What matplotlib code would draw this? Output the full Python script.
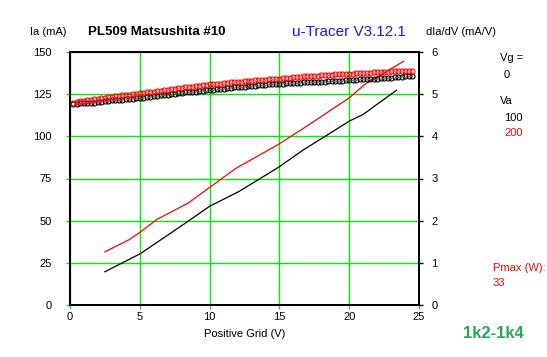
import numpy as np
import matplotlib.pyplot as plt

plt.rcParams['font.family'] = ['Liberation Sans', 'DejaVu Sans']

# anode current vs positive grid voltage (left axis, mA)
ia_100_x = [2.5, 5.05, 8.1, 10.0, 12.1, 14.95, 16.7, 18.24, 20.0, 21.0, 23.4]
ia_100 = [19.7, 30.5, 47.6, 58.5, 67.3, 81.7, 91.9, 99.8, 109.0, 113.0, 127.4]
ia_200_x = [2.5, 4.25, 5.05, 6.2, 8.46, 10.0, 11.9, 14.95, 16.9, 20.0, 21.2, 23.9]
ia_200 = [31.5, 38.8, 43.3, 50.6, 60.4, 69.7, 81.1, 95.3, 105.7, 122.8, 131.3, 144.5]

# dIa/dV (right axis, mA/V), sampled every 0.25 V
vg_s = np.arange(1, 99) * 0.25
gm_200 = [4.80, 4.81, 4.83, 4.84, 4.85, 4.87, 4.88, 4.89, 4.91, 4.92,
          4.93, 4.94, 4.95, 4.96, 4.97, 4.98, 4.99, 5.00, 5.01, 5.02,
          5.03, 5.04, 5.05, 5.06, 5.07, 5.08, 5.09, 5.10, 5.12, 5.13,
          5.14, 5.15, 5.16, 5.17, 5.18, 5.19, 5.20, 5.21, 5.22, 5.23,
          5.24, 5.25, 5.25, 5.26, 5.27, 5.28, 5.28, 5.29, 5.30, 5.31,
          5.31, 5.32, 5.33, 5.33, 5.34, 5.34, 5.35, 5.36, 5.36, 5.37,
          5.38, 5.38, 5.39, 5.40, 5.40, 5.41, 5.42, 5.42, 5.43, 5.44,
          5.44, 5.45, 5.45, 5.46, 5.46, 5.47, 5.47, 5.48, 5.48, 5.49,
          5.49, 5.50, 5.50, 5.51, 5.51, 5.51, 5.52, 5.52, 5.53, 5.53,
          5.53, 5.54, 5.54, 5.54, 5.55, 5.55, 5.55, 5.56]
gm_100 = [4.76, 4.77, 4.78, 4.78, 4.79, 4.80, 4.80, 4.81, 4.82, 4.83,
          4.84, 4.85, 4.85, 4.86, 4.87, 4.88, 4.89, 4.89, 4.90, 4.91,
          4.92, 4.93, 4.94, 4.95, 4.96, 4.97, 4.98, 4.99, 5.00, 5.01,
          5.02, 5.03, 5.04, 5.05, 5.06, 5.06, 5.07, 5.08, 5.09, 5.10,
          5.11, 5.12, 5.12, 5.13, 5.14, 5.15, 5.16, 5.16, 5.17, 5.18,
          5.19, 5.19, 5.20, 5.21, 5.22, 5.22, 5.23, 5.24, 5.24, 5.25,
          5.25, 5.26, 5.26, 5.27, 5.27, 5.27, 5.28, 5.28, 5.29, 5.29,
          5.30, 5.30, 5.30, 5.31, 5.31, 5.31, 5.32, 5.32, 5.33, 5.33,
          5.34, 5.34, 5.35, 5.35, 5.36, 5.36, 5.37, 5.37, 5.38, 5.38,
          5.39, 5.39, 5.40, 5.40, 5.41, 5.42, 5.42, 5.43]

x_ticks = [0, 5, 10, 15, 20, 25]
y_ticks = [0, 25, 50, 75, 100, 125, 150]
y2_ticks = [0, 1, 2, 3, 4, 5, 6]

fig = plt.figure(figsize=(5.47, 3.57), dpi=100)
ax = fig.add_axes([70/547, 1-305/357, 349/547, 253/357])
ax2 = ax.twinx()

ax.set_xlim(0, 25)
ax.set_ylim(0, 150)
ax2.set_ylim(0, 6)
ax.set_xticks(x_ticks)
ax.set_yticks(y_ticks)
ax2.set_yticks(y2_ticks)
ax.grid(True, color='#00ee00', linewidth=1)
ax.set_axisbelow(True)

for a in (ax, ax2):
    for s in a.spines.values():
        s.set_linewidth(1.3)
ax.tick_params(axis='both', labelsize=8, length=3, width=1, color='#00ee00', pad=10)
ax.tick_params(axis='x', pad=2)
ax2.tick_params(axis='y', labelsize=8, length=3, width=1, pad=6)

ax.plot(ia_100_x, ia_100, color='black', lw=0.9)
ax.plot(ia_200_x, ia_200, color='red', lw=0.9)
ax2.plot(vg_s, gm_100, ls='none', marker='o', ms=3.6, mfc='none', mec='black', mew=0.8)
ax2.plot(vg_s, gm_200, ls='none', marker='o', ms=3.6, mfc='none', mec='red', mew=0.8)

ax.set_xlabel('Positive Grid (V)', fontsize=8, labelpad=5)

fig.text(30/547, 1-32/357, 'Ia (mA)', fontsize=8, va='center')
fig.text(88/547, 1-32/357, 'PL509 Matsushita #10', fontsize=9.5, fontweight='bold', va='center')
fig.text(292/547, 1-32/357, 'u-Tracer V3.12.1', fontsize=11, color='#1a1aff', va='center')
fig.text(426/547, 1-32/357, 'dIa/dV (mA/V)', fontsize=8, va='center')
fig.text(500/547, 1-58/357, 'Vg =', fontsize=8, va='center')
fig.text(504/547, 1-75/357, '0', fontsize=8, va='center')
fig.text(500/547, 1-101/357, 'Va', fontsize=8, va='center')
fig.text(504/547, 1-118/357, '100', fontsize=8, va='center')
fig.text(504/547, 1-133/357, '200', fontsize=8, color='red', va='center')
fig.text(493/547, 1-268/357, 'Pmax (W):', fontsize=8, color='red', va='center')
fig.text(493/547, 1-283/357, '33', fontsize=8, color='red', va='center')
fig.text(463/547, 1-334/357, '1k2-1k4', fontsize=12, fontweight='bold', color='#22aa55', va='center')

fig.savefig('out.png', dpi=100)
